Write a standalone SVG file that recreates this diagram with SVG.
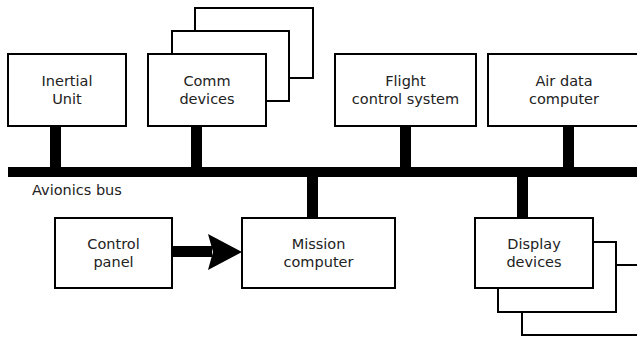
<svg xmlns="http://www.w3.org/2000/svg" width="637" height="339" viewBox="0 0 637 339">
  <style>
    .box { fill: #ffffff; stroke: #000000; stroke-width: 2; }
    .bar { fill: #000000; }
    .lbl { font-family: "DejaVu Sans", "Liberation Sans", sans-serif; font-size: 14.5px; fill: #222222; text-anchor: middle; }
    .bus { font-family: "DejaVu Sans", "Liberation Sans", sans-serif; font-size: 14.5px; fill: #222222; }
  </style>
  <rect width="637" height="339" fill="#ffffff"/>

  <!-- bus and drops -->
  <g id="connectors">
    <rect class="bar" x="8" y="167" width="629" height="10"/>
    <rect class="bar" x="50" y="126" width="11" height="41"/>
    <rect class="bar" x="191" y="126" width="11" height="41"/>
    <rect class="bar" x="400" y="126" width="11" height="41"/>
    <rect class="bar" x="563" y="126" width="11" height="41"/>
    <rect class="bar" x="307" y="177" width="11" height="41"/>
    <rect class="bar" x="517" y="177" width="11" height="41"/>
    <!-- control panel to mission computer -->
    <rect class="bar" x="172" y="246" width="40" height="11"/>
    <polygon class="bar" points="208,234 242,252 208,270 213,252"/>
  </g>
  <text class="bus" x="32" y="195">Avionics bus</text>

  <g id="inertial-unit">
    <rect class="box" x="8" y="54" width="118" height="72"/>
    <text class="lbl" x="67" y="86">Inertial</text>
    <text class="lbl" x="67" y="104">Unit</text>
  </g>

  <g id="comm-devices">
    <rect class="box" x="195" y="8" width="118" height="70"/>
    <rect class="box" x="172" y="31" width="117" height="70"/>
    <rect class="box" x="148" y="54" width="118" height="72"/>
    <text class="lbl" x="207" y="86">Comm</text>
    <text class="lbl" x="207" y="104">devices</text>
  </g>

  <g id="flight-control-system">
    <rect class="box" x="335" y="54" width="141" height="72"/>
    <text class="lbl" x="405.5" y="86">Flight</text>
    <text class="lbl" x="405.5" y="104">control system</text>
  </g>

  <g id="air-data-computer">
    <rect class="box" x="488" y="54" width="160" height="72"/>
    <text class="lbl" x="564" y="86">Air data</text>
    <text class="lbl" x="564" y="104">computer</text>
  </g>

  <g id="control-panel">
    <rect class="box" x="55" y="218" width="117" height="70"/>
    <text class="lbl" x="113.5" y="249">Control</text>
    <text class="lbl" x="113.5" y="267">panel</text>
  </g>

  <g id="mission-computer">
    <rect class="box" x="242" y="218" width="153" height="70"/>
    <text class="lbl" x="318.5" y="249">Mission</text>
    <text class="lbl" x="318.5" y="267">computer</text>
  </g>

  <g id="display-devices">
    <rect class="box" x="522" y="265" width="130" height="70"/>
    <rect class="box" x="498" y="242" width="118" height="70"/>
    <rect class="box" x="475" y="218" width="118" height="70"/>
    <text class="lbl" x="534" y="249">Display</text>
    <text class="lbl" x="534" y="267">devices</text>
  </g>
</svg>
